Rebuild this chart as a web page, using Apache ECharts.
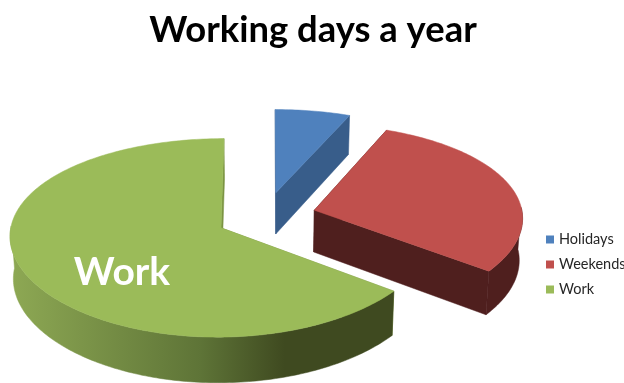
<!DOCTYPE html>
<html>
<head>
<meta charset="utf-8">
<style>html,body{margin:0;padding:0;background:#fff}#chart{width:624px;height:383px}</style>
<script src="https://cdn.jsdelivr.net/npm/echarts@6/dist/echarts.min.js"></script>
</head>
<body>
<div id="chart"></div>
<script>
// Days of the year by kind
const categories = ['Holidays', 'Weekends', 'Work'];
const dayCounts = [23, 106, 236];
const topColors = ['#4f81bd', '#c0504d', '#9bbb59'];
const wallColors = ['#385d8a', '#4f1f1e', '#7b9442'];

// Tilted-disc perspective projection shared by every slice
const view = {
  cx: 266.2, cy: 216.6,    // pie centre on screen
  rx: 208.5, ry: 96,       // disc radii on screen
  perspX: 0.07, perspY: 0.1,
  explodeX: 0.24, explodeZ: 0.26,
  depth: 42, depthGrow: 0.03, floorScale: 0.987
};
const total = dayCounts.reduce((a, b) => a + b, 0);
const toAngle = d => d / total * Math.PI * 2;

function sliceAngles(i) {
  const before = dayCounts.slice(0, i).reduce((a, b) => a + b, 0);
  return [toAngle(before), toAngle(before + dayCounts[i])];
}
// x runs to the right on the disc, z runs away from the viewer
function project(x, z) {
  return [
    view.cx + view.rx * x / (1 + view.perspX * z),
    view.cy - view.ry * z / (1 + view.perspY * z)
  ];
}
function floorPoint(p) {
  return [
    view.cx + (p[0] - view.cx) * view.floorScale,
    p[1] + view.depth + (p[1] - view.cy) * view.depthGrow
  ];
}
function poly(points, fill) {
  return {
    type: 'polygon',
    shape: { points },
    style: { fill, stroke: fill, lineWidth: 0.5 }
  };
}

function renderSlice(params) {
  const i = params.seriesIndex;
  const [a0, a1] = sliceAngles(i);
  const mid = (a0 + a1) / 2;
  const ox = view.explodeX * Math.sin(mid);
  const oz = view.explodeZ * Math.cos(mid);

  const arc = [];
  const frontArc = [];
  const steps = Math.ceil((a1 - a0) / (Math.PI / 180));
  for (let s = 0; s <= steps; s++) {
    const t = a0 + (a1 - a0) * s / steps;
    const p = project(ox + Math.sin(t), oz + Math.cos(t));
    arc.push(p);
    // Only the near half of the rim can be seen
    if (Math.cos(t) < 0.03) frontArc.push(p);
  }
  const apex = project(ox, oz);
  const first = arc[0], last = arc[arc.length - 1];
  const wall = (p, q) => [p, q, floorPoint(q), floorPoint(p)];

  let rimFill = wallColors[i];
  if (categories[i] === 'Work') {
    // Rim shading runs left to right in page coordinates
    rimFill = new echarts.graphic.LinearGradient(9, 0, 392, 0, [
      { offset: 0, color: '#8ea954' },
      { offset: 0.5, color: '#5e7437' },
      { offset: 0.72, color: '#3f4a20' },
      { offset: 1, color: '#3f4a20' }
    ], true);
  }

  const children = [
    poly(wall(apex, first), wallColors[i]),
    poly(wall(apex, last), wallColors[i])
  ];
  if (frontArc.length > 1) {
    children.push(poly(frontArc.concat(frontArc.map(floorPoint).reverse()), rimFill));
  }
  children.push(poly([apex].concat(arc), topColors[i]));
  if (categories[i] === 'Work') {
    children.push({
      type: 'text',
      style: {
        text: categories[i],
        x: apex[0] - 99, y: apex[1] + 45,
        align: 'center', verticalAlign: 'middle',
        fill: '#ffffff',
        font: 'bold 39px Lato'
      }
    });
  }
  return { type: 'group', children };
}

const chart = echarts.init(document.getElementById('chart'), null, { renderer: 'canvas' });
chart.setOption({
  animation: false,
  backgroundColor: '#ffffff',
  title: {
    text: 'Working days a year',
    left: 308, top: 7, textAlign: 'center',
    textStyle: { fontFamily: 'Lato', fontWeight: 'bold', fontSize: 36.4, color: '#000000' }
  },
  legend: {
    data: categories,
    orient: 'vertical',
    left: 546, top: 232,
    padding: 0,
    itemWidth: 8, itemHeight: 8, itemGap: 10,
    icon: 'rect',
    textStyle: { fontFamily: 'Lato', fontSize: 14.5, color: '#262626', padding: [0, 0, 0, 0] }
  },
  series: categories.map((name, i) => ({
    type: 'custom',
    name,
    coordinateSystem: 'none',
    itemStyle: { color: topColors[i] },
    data: [dayCounts[i]],
    renderItem: renderSlice,
    silent: true
  }))
});
</script>
</body>
</html>
